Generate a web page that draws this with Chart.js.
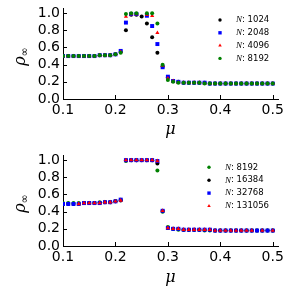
<!DOCTYPE html>
<html><head><meta charset="utf-8">
<script src="https://cdn.jsdelivr.net/npm/chart.js@4/dist/chart.umd.min.js"></script>
<style>
html,body{margin:0;padding:0;background:#fff;}
#wrap{position:relative;width:299px;height:289px;overflow:hidden;}
canvas{display:block;position:absolute;left:0;}
</style></head><body>
<div id="wrap">
<canvas id="c1" width="299" height="145" style="top:0"></canvas>
<canvas id="c2" width="299" height="144" style="top:145px"></canvas>
</div>
<script>
// ---- data ----
const mu = [0.10,0.11,0.12,0.13,0.14,0.15,0.16,0.17,0.18,0.19,0.20,
            0.21,0.22,0.23,0.24,0.25,0.26,0.27,0.28,0.29,0.30,0.31,
            0.32,0.33,0.34,0.35,0.36,0.37,0.38,0.39,0.40,0.41,0.42,0.43,0.44,0.45,0.46,0.47,0.48,0.49,0.50];
const xTicks = [0.1,0.2,0.3,0.4,0.5];
const yTicks = [0.0,0.2,0.4,0.6,0.8,1.0];

// top panel
const topLabels = ['1024','2048','4096','8192'];
const top1024 = [0.50,0.50,0.50,0.50,0.50,0.50,0.50,0.51,0.51,0.51,0.52,
                 0.55,0.80,0.98,0.98,0.96,0.88,0.72,0.54,0.38,0.25,0.21,
                 0.20,0.19,0.19,0.19,0.19,0.19,0.18,0.18,0.18,0.18,0.18,0.18,0.18,0.18,0.18,0.18,0.18,0.18,0.18];
const top2048 = [0.50,0.50,0.50,0.50,0.50,0.50,0.50,0.51,0.51,0.51,0.52,
                 0.56,0.89,0.99,0.99,null,0.97,0.85,0.64,0.37,0.26,0.21,
                 0.20,0.19,0.19,0.19,0.19,0.19,0.18,0.18,0.18,0.18,0.18,0.18,0.18,0.18,0.18,0.18,0.18,0.18,0.18];
const top4096 = [0.50,0.50,0.50,0.50,0.50,0.50,0.50,0.51,0.51,0.51,0.52,
                 0.55,0.96,0.99,0.99,null,0.98,0.97,0.77,0.39,0.24,0.21,
                 0.19,0.19,0.19,0.19,0.19,0.18,0.18,0.18,0.18,0.18,0.18,0.18,0.18,0.18,0.18,0.18,0.18,0.18,0.18];
const top8192 = [0.50,0.50,0.50,0.50,0.50,0.50,0.50,0.51,0.51,0.51,0.52,
                 0.54,0.99,1.00,1.00,null,1.00,1.00,0.88,0.40,0.22,0.20,
                 0.19,0.19,0.19,0.19,0.19,0.18,0.18,0.18,0.18,0.18,0.18,0.18,0.18,0.18,0.18,0.18,0.18,0.18,0.18];

// bottom panel
const botLabels = ['8192','16384','32768','131056'];
const bot8192 = top8192;
const bot16384 = [0.49,0.49,0.49,0.49,0.50,0.50,0.50,0.50,0.51,0.51,0.52,
                  0.53,1.00,1.00,1.00,1.00,1.00,1.00,0.96,0.41,0.21,0.20,
                  0.20,0.19,0.19,0.19,0.19,0.19,0.19,0.18,0.18,0.18,0.18,0.18,0.18,0.18,0.18,0.18,0.18,0.18,0.18];
const bot32768 = [0.49,0.49,0.49,0.49,0.50,0.50,0.50,0.50,0.51,0.51,0.52,
                  0.54,1.00,1.00,1.00,1.00,1.00,1.00,0.99,0.41,0.21,0.20,
                  0.20,0.19,0.19,0.19,0.19,0.19,0.19,0.18,0.18,0.18,0.18,0.18,0.18,0.18,0.18,0.18,0.18,0.18,0.18];
const bot131056 = [null,null,null,0.49,0.50,0.50,0.50,0.50,0.51,0.51,0.52,
                   0.53,1.00,1.00,1.00,1.00,1.00,1.00,0.99,0.41,0.21,0.20,
                   0.20,0.19,0.19,0.19,0.19,0.19,0.19,0.18,0.18,0.18,0.18,0.18,0.18,0.18,0.18,null,0.18,null,0.18];

// ---- helpers ----
const pts = v => mu.map((x,i)=>({x:x,y:v[i]})).filter(p=>p.y!==null);
const COL = {k:'#000000', b:'#0000ff', r:'#ff0000', g:'#008000'};
function ds(label, vals, color, style, radius, idx, n){
  return {label, data:pts(vals), backgroundColor:color, borderColor:color, borderWidth:0,
          pointStyle:style, pointRadius:radius, pointHoverRadius:radius, order:n-1-idx};
}

const inwardTicks = {
  id:'inwardTicks',
  afterDraw(chart){
    const {ctx, chartArea:a, scales:{x,y}} = chart;
    ctx.save(); ctx.strokeStyle='#000'; ctx.lineWidth=1; ctx.beginPath();
    x.ticks.forEach(t=>{const px=Math.round(x.getPixelForValue(t.value))+0.5; ctx.moveTo(px,a.bottom); ctx.lineTo(px,a.bottom-4);});
    y.ticks.forEach(t=>{const py=Math.round(y.getPixelForValue(t.value))+0.5; ctx.moveTo(a.left,py); ctx.lineTo(a.left+4,py);});
    ctx.stroke(); ctx.restore();
  }
};
const yTitle = {
  id:'yTitle',
  afterDraw(chart, args, o){
    const ctx=chart.ctx, a=chart.chartArea;
    const cy=(a.top+a.bottom)/2+o.dy;
    ctx.save(); ctx.translate(o.x, cy); ctx.rotate(-Math.PI/2);
    ctx.fillStyle='#000'; ctx.textBaseline='alphabetic'; ctx.textAlign='left';
    ctx.font='italic 16px "DejaVu Serif"';
    const w1=ctx.measureText('ρ').width;
    ctx.font='11px "DejaVu Sans"';
    const w2=ctx.measureText('∞').width;
    const x0=-(w1+w2)/2;
    ctx.font='italic 16px "DejaVu Serif"'; ctx.fillText('ρ', x0, 0);
    ctx.font='11px "DejaVu Sans"'; ctx.fillText('∞', x0+w1, 3);
    ctx.restore();
  }
};
const legendPlug = {
  id:'legendPlug',
  afterDraw(chart, args, o){
    const ctx=chart.ctx;
    chart.data.datasets.forEach((d,i)=>{
      const y=o.y0+i*o.dy;
      ctx.save(); ctx.fillStyle=d.backgroundColor; ctx.strokeStyle=d.backgroundColor;
      Chart.helpers.drawPoint(ctx,{pointStyle:d.pointStyle,radius:d.pointRadius*0.85,borderWidth:0},o.mx,y);
      ctx.restore();
      ctx.save(); ctx.fillStyle='#000'; ctx.textBaseline='middle'; ctx.textAlign='left';
      ctx.font='italic 9px "Liberation Serif"';
      ctx.fillText('N', o.tx, y);
      const w=ctx.measureText('N').width;
      ctx.font='8.5px "DejaVu Sans"';
      ctx.fillText(': '+d.label, o.tx+w, y);
      ctx.restore();
    });
  }
};

function makeChart(id, datasets, g){
  return new Chart(document.getElementById(id), {
    type:'scatter',
    data:{datasets},
    plugins:[inwardTicks, yTitle, legendPlug],
    options:{
      responsive:false, animation:false, events:[],
      layout:{padding:{left:0, right:299-g.right, top:g.top, bottom:0}},
      plugins:{legend:{display:false}, tooltip:{enabled:false},
        yTitle:{x:g.tx, dy:g.tdy}, legendPlug:g.leg},
      scales:{
        x:{type:'linear', min:0.1, max:0.51,
           afterFit:s=>{s.height=g.H-g.bottom; s.paddingLeft=0; s.paddingRight=0;},
           afterBuildTicks:s=>{s.ticks=xTicks.map(v=>({value:v}));},
           grid:{display:false, drawTicks:false}, border:{display:true,color:'#000',width:1},
           ticks:{color:'#000', padding:3, maxRotation:0, autoSkip:false, font:{family:'DejaVu Sans', size:14}, callback:v=>v.toFixed(1)},
           title:{display:true, text:'μ', color:'#000', font:{family:'DejaVu Serif', size:16, style:'italic'}, padding:{top:0,bottom:g.mub}}},
        y:{type:'linear', min:0, max:1.06,
           afterFit:s=>{s.width=g.left; s.paddingTop=0; s.paddingBottom=0;},
           afterBuildTicks:s=>{s.ticks=yTicks.map(v=>({value:v}));},
           grid:{display:false, drawTicks:false}, border:{display:true,color:'#000',width:1},
           ticks:{color:'#000', padding:3, autoSkip:false, font:{family:'DejaVu Sans', size:14}, callback:v=>v.toFixed(1)}}
      }
    }
  });
}

makeChart('c1', [
  ds(topLabels[0], top1024, COL.k, 'circle', 2, 0, 4),
  ds(topLabels[1], top2048, COL.b, 'rect', 2.8, 1, 4),
  ds(topLabels[2], top4096, COL.r, 'triangle', 2.4, 2, 4),
  ds(topLabels[3], top8192, COL.g, 'circle', 2, 3, 4)
], {H:145, left:63, right:278, top:8, bottom:99, tx:25, tdy:3, mub:6,
    leg:{mx:220, tx:236, y0:20, dy:12.8}});

makeChart('c2', [
  ds(botLabels[0], bot8192, COL.g, 'circle', 2, 0, 4),
  ds(botLabels[1], bot16384, COL.k, 'circle', 2, 1, 4),
  ds(botLabels[2], bot32768, COL.b, 'rect', 2.8, 2, 4),
  ds(botLabels[3], bot131056, COL.r, 'triangle', 2.4, 3, 4)
], {H:144, left:63, right:278, top:10, bottom:101, tx:25, tdy:3, mub:2,
    leg:{mx:209, tx:225, y0:22.3, dy:12.9}});
</script>
</body></html>
